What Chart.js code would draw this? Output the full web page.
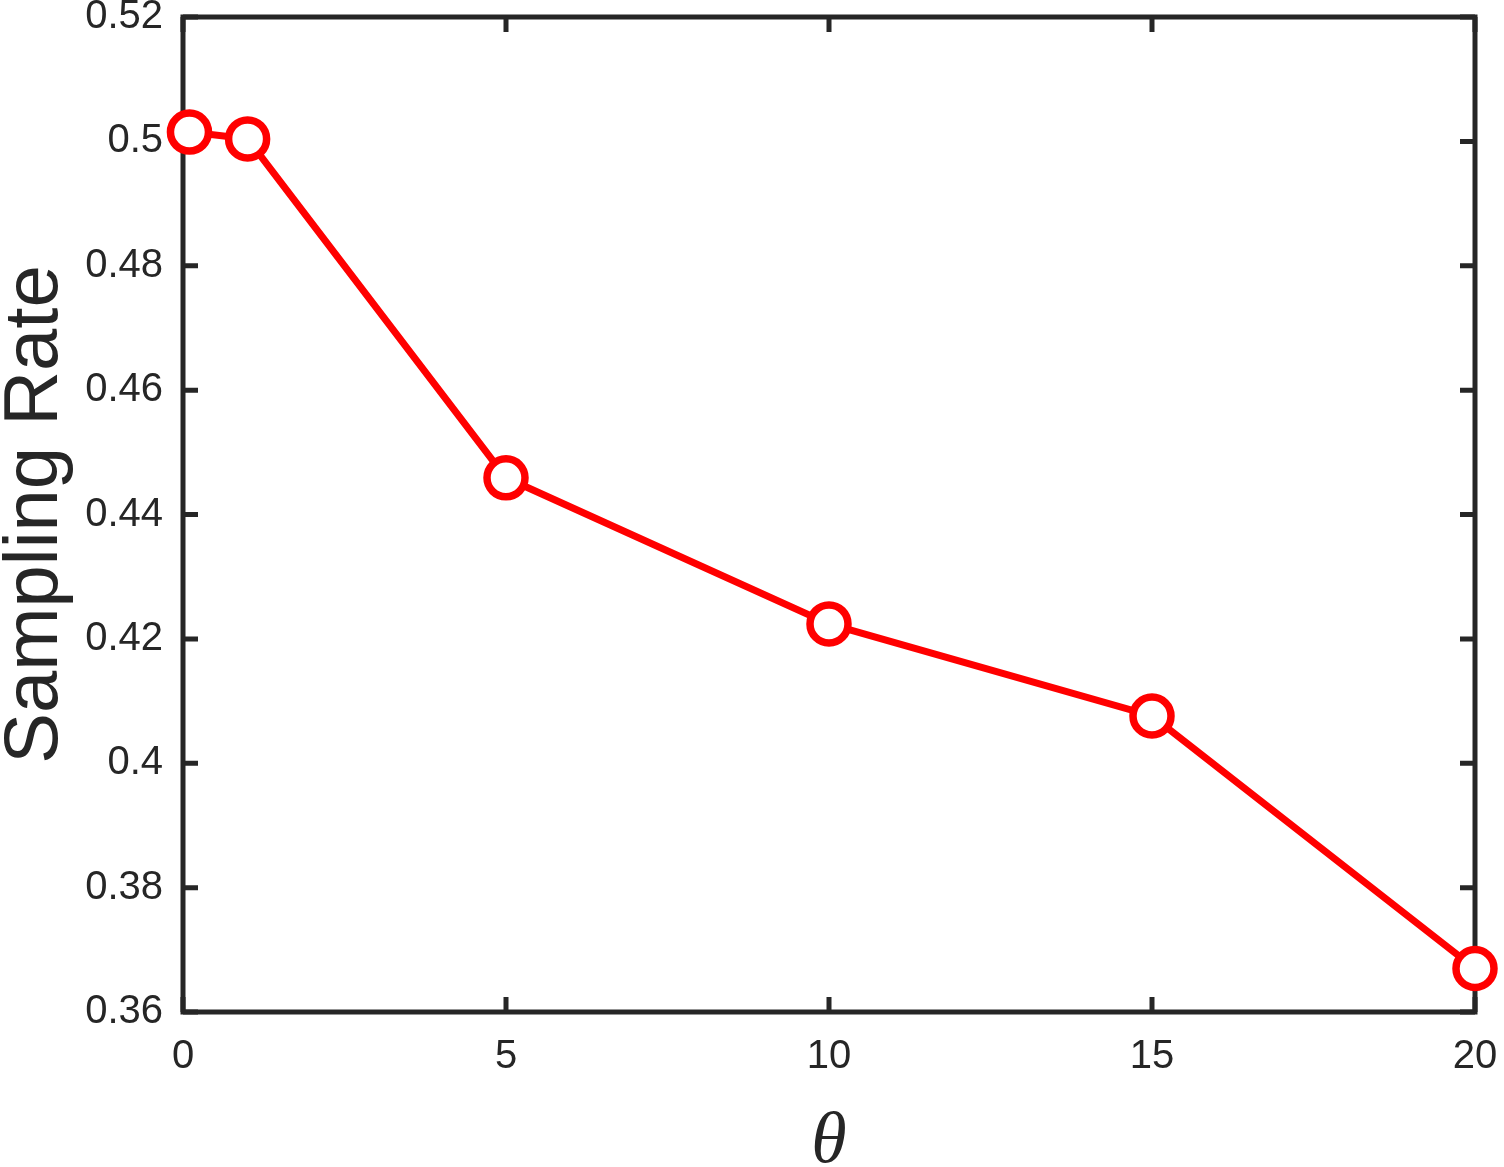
<!DOCTYPE html>
<html>
<head>
<meta charset="utf-8">
<script src="https://cdn.jsdelivr.net/npm/chart.js@4"></script>
<style>
    html, body { margin: 0; padding: 0; background: #fff; }
    #wrap { width: 1504px; height: 1167px; }
</style>
</head>
<body>
<div id="wrap"><canvas id="rate-chart" width="1504" height="1167"></canvas></div>
<script>
// values
const thetaValues = [0.1, 1, 5, 10, 15, 20];
const samplingRate = [0.5015, 0.5004, 0.4459, 0.4224, 0.4076, 0.3670];
const xTicks = [0, 5, 10, 15, 20];
const yTicks = [0.36, 0.38, 0.40, 0.42, 0.44, 0.46, 0.48, 0.50, 0.52];

const axisColor = '#262626';

// box around the plot with inward tick marks on all four sides
const framePlugin = {
    id: 'frame',
    beforeDatasetsDraw(chart) {
        const { ctx, chartArea: a, scales } = chart;
        const len = 15;
        ctx.save();
        ctx.strokeStyle = axisColor;
        ctx.lineWidth = 5;
        ctx.lineCap = 'butt';
        ctx.beginPath();
        xTicks.forEach(v => {
            const px = scales.x.getPixelForValue(v);
            ctx.moveTo(px, a.bottom); ctx.lineTo(px, a.bottom - len);
            ctx.moveTo(px, a.top); ctx.lineTo(px, a.top + len);
        });
        yTicks.forEach(v => {
            const py = scales.y.getPixelForValue(v);
            ctx.moveTo(a.left, py); ctx.lineTo(a.left + len, py);
            ctx.moveTo(a.right, py); ctx.lineTo(a.right - len, py);
        });
        ctx.stroke();
        ctx.lineJoin = 'miter';
        ctx.strokeRect(a.left, a.top, a.right - a.left, a.bottom - a.top);
        ctx.restore();
    }
};

const ctx = document.getElementById('rate-chart').getContext('2d');
new Chart(ctx, {
    type: 'line',
    data: {
        datasets: [{
            data: thetaValues.map((x, i) => ({ x: x, y: samplingRate[i] })),
            borderColor: '#ff0000',
            backgroundColor: '#ffffff',
            borderWidth: 7,
            pointRadius: 19,
            pointBorderWidth: 7.5,
            pointBackgroundColor: '#ffffff',
            pointBorderColor: '#ff0000',
            tension: 0,
            clip: false
        }]
    },
    options: {
        responsive: false,
        animation: false,
        devicePixelRatio: 1,
        layout: { autoPadding: false, padding: { left: 0, top: 17, right: 29, bottom: 0 } },
        plugins: {
            legend: { display: false },
            tooltip: { enabled: false }
        },
        scales: {
            x: {
                type: 'linear',
                min: 0,
                max: 20,
                afterFit: s => { s.height = 155; s.paddingLeft = 0; s.paddingRight = 0; },
                afterBuildTicks: s => { s.ticks = xTicks.map(v => ({ value: v })); },
                grid: { display: false, drawTicks: false },
                border: { display: false },
                ticks: {
                    color: axisColor,
                    padding: 21,
                    maxRotation: 0,
                    font: { family: 'Liberation Sans', size: 40 }
                },
                title: {
                    display: true,
                    text: 'θ',
                    color: axisColor,
                    padding: 0,
                    font: { family: 'Liberation Serif', size: 72, style: 'italic', lineHeight: 0.66 }
                }
            },
            y: {
                type: 'linear',
                min: 0.36,
                max: 0.52,
                afterFit: s => { s.width = 183; s.paddingTop = 0; s.paddingBottom = 0; },
                afterBuildTicks: s => { s.ticks = yTicks.map(v => ({ value: v })); },
                grid: { display: false, drawTicks: false },
                border: { display: false },
                ticks: {
                    color: axisColor,
                    padding: 20,
                    font: { family: 'Liberation Sans', size: 40 },
                    callback: v => String(parseFloat(v.toFixed(2)))
                },
                title: {
                    display: true,
                    text: 'Sampling Rate',
                    color: axisColor,
                    padding: 0,
                    font: { family: 'Liberation Sans', size: 76, lineHeight: 0.95 }
                }
            }
        }
    },
    plugins: [framePlugin]
});
</script>
</body>
</html>
